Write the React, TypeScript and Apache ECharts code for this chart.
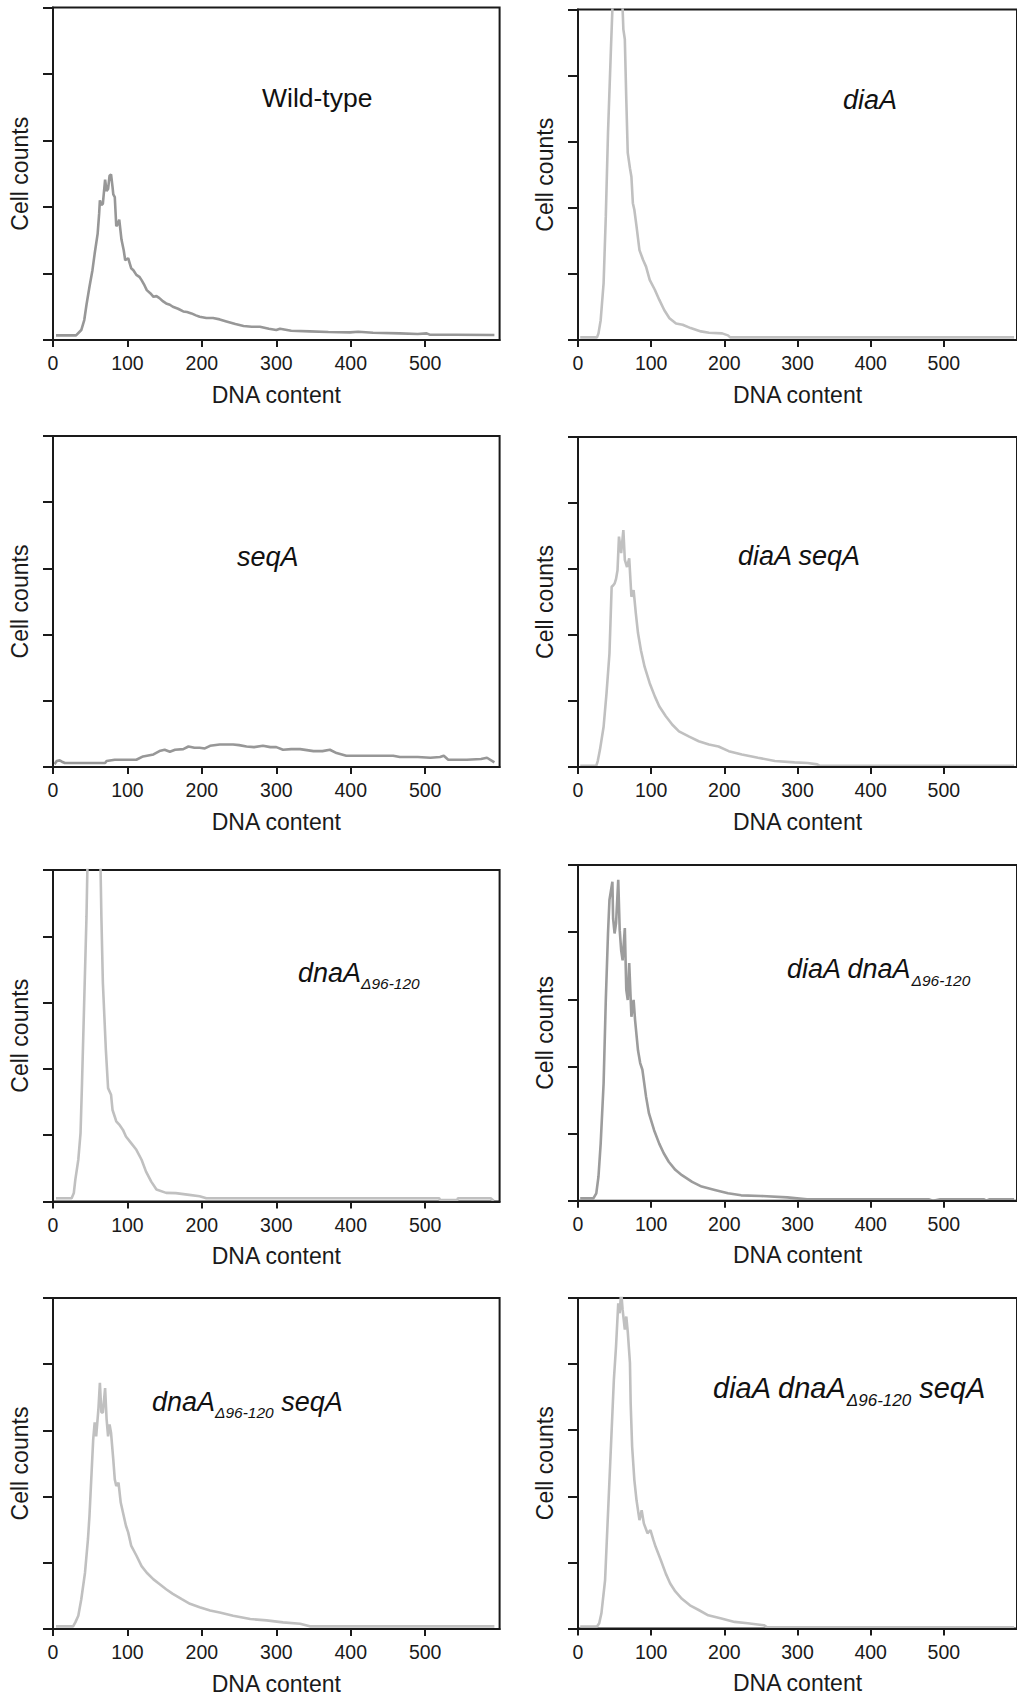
import React, { useEffect, useRef } from "react";
import * as echarts from "echarts";

// ---------- data (DNA content, cell counts in y-tick units) ----------
const X_TICKS = [0, 100, 200, 300, 400, 500];

const WILD_TYPE: [number, number][] = [
  [4, 0.07], [31, 0.07], [38, 0.15], [42, 0.3], [45, 0.53], [49, 0.8], [53, 1.05], [56, 1.3], [60, 1.6],
  [62, 1.9], [63, 2.1], [65, 2.03], [67, 2.05], [70, 2.41], [72, 2.24], [74, 2.27], [76, 2.47], [78, 2.49],
  [80, 2.3], [81, 2.19], [83, 2.15], [85, 1.71], [87, 1.74], [89, 1.81], [92, 1.51], [95, 1.35], [97, 1.2],
  [101, 1.23], [105, 1.08], [108, 1.05], [112, 0.98], [116, 0.95], [119, 0.9], [123, 0.82], [126, 0.75],
  [131, 0.7], [135, 0.65], [139, 0.66], [143, 0.63], [148, 0.58], [152, 0.55], [157, 0.53], [161, 0.5],
  [168, 0.47], [175, 0.43], [180, 0.42], [186, 0.4], [192, 0.37], [197, 0.35], [206, 0.33], [215, 0.33],
  [224, 0.31], [233, 0.28], [245, 0.24], [256, 0.21], [267, 0.2], [278, 0.2], [290, 0.17], [300, 0.15],
  [305, 0.17], [320, 0.14], [345, 0.13], [370, 0.12], [399, 0.115], [410, 0.125], [430, 0.11], [466, 0.1],
  [490, 0.09], [502, 0.1], [506, 0.08], [540, 0.08], [593, 0.075],
];

const DIA_A: [number, number][] = [
  [3, 0.04], [26, 0.04], [28, 0.1], [31, 0.3], [35, 0.86], [38, 1.87], [41, 3.13], [45, 4.4], [48, 5.3],
  [51, 6.5], [54, 7], [57, 6.5], [60, 5.3], [62, 4.7], [64, 4.55], [66, 3.64], [68, 2.83], [71, 2.6],
  [73, 2.47], [75, 2.07], [77, 1.97], [80, 1.72], [84, 1.36], [89, 1.21], [93, 1.11], [98, 0.91],
  [105, 0.76], [111, 0.61], [118, 0.45], [125, 0.33], [134, 0.25], [143, 0.23], [154, 0.18], [168, 0.13],
  [179, 0.11], [197, 0.1], [205, 0.07], [208, 0.04], [300, 0.04], [450, 0.04], [596, 0.04],
];

const SEQ_A: [number, number][] = [
  [2, 0.04], [5, 0.09], [9, 0.1], [12, 0.08], [16, 0.06], [40, 0.06], [70, 0.06], [72, 0.09], [83, 0.11],
  [100, 0.11], [112, 0.11], [121, 0.16], [135, 0.19], [143, 0.24], [150, 0.26], [157, 0.23], [164, 0.26],
  [175, 0.27], [182, 0.31], [190, 0.29], [197, 0.29], [204, 0.28], [211, 0.32], [224, 0.34], [242, 0.34],
  [250, 0.33], [260, 0.31], [270, 0.3], [282, 0.32], [292, 0.3], [300, 0.3], [309, 0.26], [320, 0.27],
  [332, 0.27], [350, 0.24], [362, 0.24], [372, 0.26], [381, 0.21], [394, 0.17], [422, 0.17], [457, 0.17],
  [466, 0.15], [490, 0.15], [507, 0.14], [520, 0.15], [525, 0.17], [531, 0.11], [556, 0.11], [575, 0.12],
  [583, 0.14], [593, 0.07],
];

const DIA_A_SEQ_A: [number, number][] = [
  [3, 0.02], [25, 0.02], [27, 0.09], [30, 0.26], [35, 0.61], [39, 1.12], [43, 1.72], [46, 2.73], [48, 2.75],
  [50, 2.78], [52, 2.85], [54, 2.98], [56, 3.49], [59, 3.24], [62, 3.59], [64, 3.14], [67, 3.03], [70, 3.16],
  [73, 2.58], [76, 2.68], [79, 2.33], [82, 2.03], [86, 1.77], [91, 1.52], [98, 1.27], [105, 1.07],
  [111, 0.92], [120, 0.77], [129, 0.64], [138, 0.54], [152, 0.46], [165, 0.39], [179, 0.34], [192, 0.31],
  [206, 0.24], [224, 0.19], [246, 0.14], [269, 0.09], [296, 0.07], [314, 0.06], [327, 0.04], [330, 0.02],
  [596, 0.02],
];

const DNA_A_DELTA: [number, number][] = [
  [4, 0.05], [25, 0.05], [28, 0.13], [30, 0.33], [34, 0.63], [37, 1.03], [39, 1.79], [42, 3.05], [45, 4.3],
  [47, 5.5], [50, 6.5], [55, 7], [60, 6.8], [63, 5.6], [65, 4.3], [67, 3.3], [71, 2.29], [74, 1.71],
  [78, 1.61], [80, 1.38], [85, 1.21], [89, 1.16], [94, 1.08], [98, 0.98], [105, 0.88], [112, 0.78],
  [119, 0.63], [125, 0.45], [132, 0.3], [139, 0.18], [152, 0.13], [165, 0.126], [183, 0.1], [197, 0.08],
  [206, 0.05], [519, 0.05], [520, 0.02], [543, 0.02], [544, 0.05], [588, 0.05], [592, 0.01],
];

const DIA_A_DNA_A_DELTA: [number, number][] = [
  [3, 0.035], [21, 0.035], [25, 0.11], [28, 0.36], [31, 0.85], [35, 1.75], [38, 2.99], [41, 3.98],
  [43, 4.48], [47, 4.75], [48, 4.2], [50, 3.98], [52, 4.13], [55, 4.78], [57, 4.03], [59, 3.73], [61, 3.58],
  [64, 4.06], [66, 3.14], [68, 2.99], [70, 3.54], [73, 2.74], [76, 2.99], [78, 2.69], [82, 2.24], [85, 2.05],
  [88, 1.95], [93, 1.55], [97, 1.3], [104, 1.05], [111, 0.85], [117, 0.71], [124, 0.58], [133, 0.46],
  [142, 0.38], [156, 0.28], [169, 0.21], [187, 0.16], [205, 0.11], [223, 0.08], [250, 0.07], [286, 0.05],
  [313, 0.02], [480, 0.02], [485, 0.0], [495, 0.02], [555, 0.02], [558, 0.0], [562, 0.02], [596, 0.02],
];

const DNA_A_SEQ_A: [number, number][] = [
  [4, 0.04], [27, 0.04], [30, 0.1], [34, 0.2], [38, 0.45], [43, 0.85], [47, 1.36], [49, 1.71], [52, 2.4],
  [54, 2.86], [56, 3.12], [58, 2.91], [61, 3.32], [63, 3.72], [65, 3.27], [67, 3.27], [70, 3.64], [72, 3.17],
  [74, 2.91], [76, 3.09], [78, 2.96], [81, 2.56], [83, 2.26], [85, 2.16], [88, 2.21], [91, 1.91], [94, 1.76],
  [98, 1.56], [101, 1.46], [105, 1.26], [112, 1.11], [119, 0.95], [126, 0.85], [135, 0.75], [143, 0.68],
  [152, 0.6], [161, 0.53], [173, 0.45], [184, 0.38], [197, 0.33], [211, 0.28], [224, 0.25], [242, 0.2],
  [265, 0.15], [287, 0.13], [309, 0.1], [332, 0.08], [345, 0.04], [593, 0.04],
];

const DIA_A_DNA_A_SEQ_A: [number, number][] = [
  [3, 0.03], [26, 0.03], [29, 0.08], [32, 0.23], [37, 0.73], [41, 1.74], [46, 3.0], [49, 3.76], [52, 4.27],
  [55, 4.92], [57, 4.77], [59, 5.1], [61, 4.82], [64, 4.52], [66, 4.72], [68, 4.49], [71, 4.02], [72, 3.4],
  [74, 2.75], [77, 2.25], [80, 1.94], [84, 1.64], [87, 1.79], [90, 1.59], [95, 1.44], [99, 1.49],
  [103, 1.34], [106, 1.24], [113, 1.04], [120, 0.83], [126, 0.68], [133, 0.56], [142, 0.45], [153, 0.35],
  [165, 0.28], [178, 0.2], [196, 0.15], [214, 0.1], [232, 0.08], [254, 0.05], [258, 0.02], [596, 0.02],
];

// ---------- layout ----------
const FONT = '"Liberation Sans", Arial, Helvetica, sans-serif';
const INK = "#1a1a1a";
const DARK_GRAY = "#979797";
const LIGHT_GRAY = "#c0c0c0";
const PLOT_W = 446.6;

type Part = { text: string; sub?: boolean };
type Label = { x: number; y: number; size: number; subSize: number; italic: boolean; parts: Part[] };
type Panel = {
  data: [number, number][];
  color: string;
  left: number;
  top: number;
  bottom: number;
  label: Label;
};

const PANELS: Panel[] = [
  {
    data: WILD_TYPE, color: DARK_GRAY, left: 53, top: 7.5, bottom: 340,
    label: { x: 262, y: 97.5, size: 26.5, subSize: 16, italic: false, parts: [{ text: "Wild-type" }] },
  },
  {
    data: DIA_A, color: LIGHT_GRAY, left: 578, top: 9.5, bottom: 340,
    label: { x: 843, y: 99.5, size: 27, subSize: 16, italic: true, parts: [{ text: "diaA" }] },
  },
  {
    data: SEQ_A, color: DARK_GRAY, left: 53, top: 436, bottom: 767,
    label: { x: 237, y: 556.5, size: 27, subSize: 16, italic: true, parts: [{ text: "seqA" }] },
  },
  {
    data: DIA_A_SEQ_A, color: LIGHT_GRAY, left: 578, top: 437, bottom: 767,
    label: { x: 738, y: 555.5, size: 27, subSize: 16, italic: true, parts: [{ text: "diaA seqA" }] },
  },
  {
    data: DNA_A_DELTA, color: LIGHT_GRAY, left: 53, top: 870, bottom: 1201.5,
    label: {
      x: 298, y: 972.5, size: 27, subSize: 15.5, italic: true,
      parts: [{ text: "dnaA" }, { text: "Δ96-120", sub: true }],
    },
  },
  {
    data: DIA_A_DNA_A_DELTA, color: "#9c9c9c", left: 578, top: 865, bottom: 1200.7,
    label: {
      x: 787, y: 969, size: 27, subSize: 15.5, italic: true,
      parts: [{ text: "diaA dnaA" }, { text: "Δ96-120", sub: true }],
    },
  },
  {
    data: DNA_A_SEQ_A, color: LIGHT_GRAY, left: 53, top: 1298, bottom: 1630,
    label: {
      x: 152, y: 1401.5, size: 27, subSize: 15.5, italic: true,
      parts: [{ text: "dnaA" }, { text: "Δ96-120", sub: true }, { text: " seqA" }],
    },
  },
  {
    data: DIA_A_DNA_A_SEQ_A, color: LIGHT_GRAY, left: 578, top: 1298, bottom: 1628.5,
    label: {
      x: 713, y: 1388, size: 29, subSize: 17, italic: true,
      parts: [{ text: "diaA dnaA" }, { text: "Δ96-120", sub: true }, { text: " seqA" }],
    },
  },
];

let measureCtx: CanvasRenderingContext2D | null = null;
function textWidth(text: string, font: string): number {
  if (!measureCtx) measureCtx = document.createElement("canvas").getContext("2d");
  if (!measureCtx) return text.length * 12;
  measureCtx.font = font;
  return measureCtx.measureText(text).width;
}

function labelElements(label: Label) {
  const out: any[] = [];
  let cursor = label.x;
  for (const part of label.parts) {
    const size = part.sub ? label.subSize : label.size;
    const font = `${label.italic ? "italic " : ""}${size}px ${FONT}`;
    const y = part.sub ? label.y + 0.42 * label.size : label.y;
    out.push({
      type: "text",
      x: cursor,
      y,
      z: 10,
      style: { text: part.text, fill: "#111111", font, align: "left", verticalAlign: "middle" },
    });
    cursor += textWidth(part.text, font);
  }
  return out;
}

function buildOption() {
  const axisLineStyle = { color: INK, width: 2 };
  const grid = PANELS.map((p) => ({
    left: p.left,
    top: p.top,
    width: PLOT_W,
    height: p.bottom - p.top,
    show: true,
    borderColor: INK,
    borderWidth: 2,
    backgroundColor: "transparent",
  }));
  const xAxis = PANELS.map((_, i) => ({
    gridIndex: i,
    type: "value",
    min: 0,
    max: 600,
    z: 5,
    axisLine: { show: true, onZero: false, lineStyle: axisLineStyle },
    axisTick: { show: true, inside: false, length: 7, lineStyle: axisLineStyle, customValues: X_TICKS },
    axisLabel: { show: true, customValues: X_TICKS, fontSize: 19.5, color: INK, margin: 13, fontFamily: FONT },
    splitLine: { show: false },
    name: "DNA content",
    nameLocation: "middle",
    nameGap: 43,
    nameTextStyle: { fontSize: 23, color: INK, fontFamily: FONT },
  }));
  const yAxis = PANELS.map((_, i) => ({
    gridIndex: i,
    type: "value",
    min: 0,
    max: 5,
    interval: 1,
    z: 5,
    axisLine: { show: true, onZero: false, lineStyle: axisLineStyle },
    axisTick: { show: true, inside: false, length: 10, lineStyle: axisLineStyle },
    axisLabel: { show: false },
    splitLine: { show: false },
    name: "Cell counts",
    nameLocation: "middle",
    nameGap: 22,
    nameTextStyle: { fontSize: 23, color: INK, fontFamily: FONT },
  }));
  const series = PANELS.map((p, i) => ({
    type: "line",
    xAxisIndex: i,
    yAxisIndex: i,
    data: p.data,
    showSymbol: false,
    symbol: "none",
    clip: true,
    z: 2,
    lineStyle: { color: p.color, width: 2.6 },
    itemStyle: { color: p.color },
  }));
  const graphic = PANELS.flatMap((p) => labelElements(p.label));
  return {
    animation: false,
    backgroundColor: "#ffffff",
    textStyle: { fontFamily: FONT },
    grid,
    xAxis,
    yAxis,
    series,
    graphic,
  };
}

export default function App() {
  const ref = useRef<HTMLDivElement>(null);
  useEffect(() => {
    if (!ref.current) return;
    const chart = echarts.init(ref.current, null, { renderer: "svg" });
    chart.setOption(buildOption() as any);
    return () => chart.dispose();
  }, []);
  return (
    <div
      ref={ref}
      style={{ position: "absolute", left: 0, top: 0, width: 1017, height: 1696, overflow: "hidden" }}
    />
  );
}
